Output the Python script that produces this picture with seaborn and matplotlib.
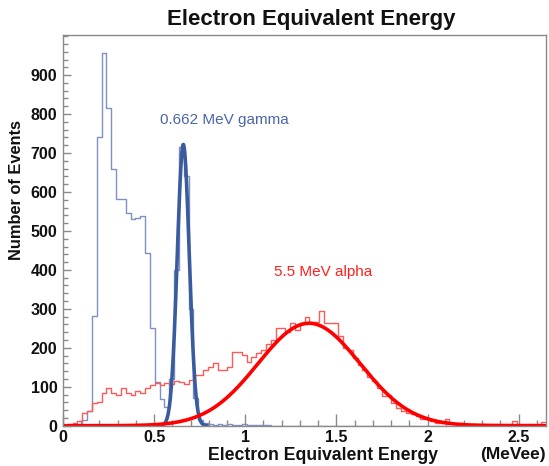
import numpy as np
import pandas as pd
import matplotlib
matplotlib.use("Agg")
import matplotlib.pyplot as plt
from matplotlib.ticker import MultipleLocator
import seaborn as sns

# ---------------- data ----------------
n_bins = 100
x_max = 2.65
bin_width = x_max / n_bins

gamma_counts = [0, 0, 0, 2, 15, 38, 282, 742, 958, 816,
                660, 582, 582, 545, 531, 534, 539, 444, 252, 112,
                68, 48, 120, 400, 715, 640, 300, 70, 15, 6,
                4, 3, 4, 3, 4, 3, 3, 4, 3, 2,
                2, 1, 1] + [0] * 57

alpha_counts = [3, 4, 6, 12, 33, 38, 58, 62, 84, 96,
                84, 80, 96, 84, 80, 90, 84, 96, 104, 110,
                104, 110, 107, 115, 113, 108, 118, 130, 130, 143,
                150, 162, 143, 143, 150, 190, 190, 181, 164, 176,
                186, 195, 211, 221, 250, 250, 240, 263, 245, 263,
                280, 265, 265, 295, 264, 264, 264, 230, 200, 194,
                174, 157, 142, 125, 114, 97, 76, 80, 59, 46,
                39, 33, 29, 25, 16, 16, 12, 8, 8, 16,
                8, 5, 6, 4, 5, 5, 4, 5, 5, 4,
                5, 4, 5, 12, 5, 4, 5, 4, 5, 10]

# Gaussian fit parameters (amplitude, mean, sigma, fit range)
gamma_fit = dict(amp=722.0, mean=0.660, sigma=0.033, lo=0.54, hi=0.79)
alpha_fit = dict(amp=263.0, mean=1.350, sigma=0.280, lo=0.0, hi=2.65)

x_ticks = [0, 0.5, 1, 1.5, 2, 2.5]
x_tick_labels = ["0", "0.5", "1", "1.5", "2", "2.5"]
y_ticks = [0, 100, 200, 300, 400, 500, 600, 700, 800, 900]

# ---------------- plot ----------------
sns.set_style("ticks")
plt.rcParams['font.family'] = ['Liberation Sans', 'DejaVu Sans']

centers = (np.arange(n_bins) + 0.5) * bin_width
df = pd.DataFrame({"energy": np.concatenate([centers, centers]),
                   "count": np.concatenate([gamma_counts, alpha_counts]).astype(float),
                   "source": ["gamma"] * n_bins + ["alpha"] * n_bins})

fig = plt.figure(figsize=(5.49, 4.66), dpi=100)
ax = fig.add_axes([63 / 549, 1 - 425.7 / 466, (546 - 63) / 549, (425.7 - 35) / 466])

blue_hist = "#7f90c2"
blue_fit = "#3a5c9e"
red_hist = "#ff5a5a"
red_fit = "#ff0000"

sns.histplot(data=df[df.source == "gamma"], x="energy", weights="count",
             binwidth=bin_width, binrange=(0, x_max),
             element="step", fill=False, color=blue_hist, linewidth=1.0, ax=ax)
sns.histplot(data=df[df.source == "alpha"], x="energy", weights="count",
             binwidth=bin_width, binrange=(0, x_max),
             element="step", fill=False, color=red_hist, linewidth=1.0, ax=ax)

def gauss_frame(p):
    xs = np.linspace(p["lo"], p["hi"], 400)
    ys = p["amp"] * np.exp(-0.5 * ((xs - p["mean"]) / p["sigma"]) ** 2)
    return pd.DataFrame({"x": xs, "y": ys})

sns.lineplot(data=gauss_frame(gamma_fit), x="x", y="y", color=blue_fit, linewidth=2.6, ax=ax)
sns.lineplot(data=gauss_frame(alpha_fit), x="x", y="y", color=red_fit, linewidth=2.6, ax=ax)

ax.set_xlim(0, x_max)
ax.set_ylim(0, 1003)
ax.set_xticks(x_ticks)
ax.set_xticklabels(x_tick_labels)
ax.set_yticks(y_ticks)
ax.xaxis.set_minor_locator(MultipleLocator(0.1))
ax.yaxis.set_minor_locator(MultipleLocator(20))

for s in ax.spines.values():
    s.set_visible(True)
    s.set_color("#8a8a8a")
    s.set_linewidth(1.0)

ax.tick_params(axis="x", which="major", direction="in", length=9, width=1, color="#8a8a8a",
               labelsize=11.5, pad=3)
ax.tick_params(axis="x", which="minor", direction="in", length=4.5, width=1, color="#8a8a8a")
ax.tick_params(axis="y", which="major", direction="in", length=6, width=1, color="#8a8a8a",
               labelsize=11.5, pad=4)
ax.tick_params(axis="y", which="minor", direction="in", length=3.5, width=1, color="#8a8a8a")
for lab in ax.get_xticklabels() + ax.get_yticklabels():
    lab.set_fontweight("bold")
    lab.set_color("#111111")

ax.set_xlabel("")
ax.set_ylabel("")
fig.text(438 / 549, 1 - 455 / 466, "Electron Equivalent Energy", ha="right", va="center",
         fontsize=12.7, fontweight="bold", color="#111111")
fig.text(546 / 549, 1 - 455 / 466, "(MeVee)", ha="right", va="center",
         fontsize=12.5, fontweight="bold", color="#111111")
fig.text(17 / 549, 1 - 120 / 466, "Number of Events", ha="center", va="top", rotation=90,
         fontsize=11.8, fontweight="bold", color="#111111")
fig.text(311 / 549, 1 - 20 / 466, "Electron Equivalent Energy", ha="center", va="center",
         fontsize=16, fontweight="bold", color="#111111")

ax.text(0.53, 786, "0.662 MeV gamma", color="#4a66aa", fontsize=11, ha="left", va="center")
ax.text(1.16, 394, "5.5 MeV alpha", color="#ff2020", fontsize=11, ha="left", va="center")

fig.savefig("out.png", dpi=100)
